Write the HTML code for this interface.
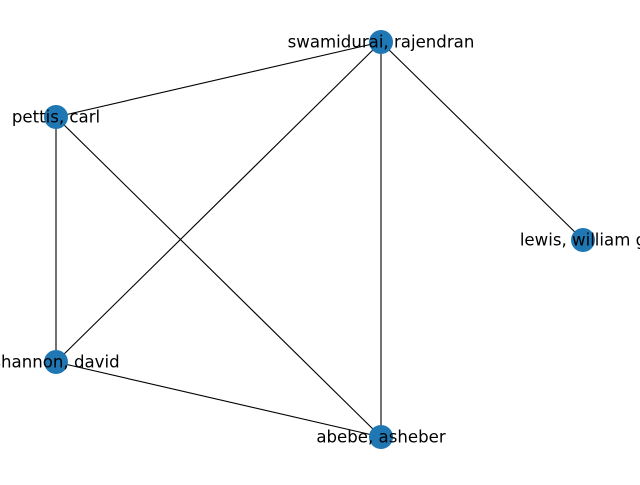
<!DOCTYPE html>
<html><head><style>html,body{margin:0;padding:0;background:#fff;overflow:hidden}</style></head>
<body>
<svg width="640" height="480" viewBox="0 0 640 480" xmlns="http://www.w3.org/2000/svg">
<g stroke="#000" stroke-width="1.1">
<line x1="381" y1="42" x2="56" y2="117"/>
<line x1="381" y1="42" x2="56" y2="362"/>
<line x1="381" y1="42" x2="381" y2="437"/>
<line x1="381" y1="42" x2="583" y2="240"/>
<line x1="56" y1="117" x2="56" y2="362"/>
<line x1="56" y1="117" x2="381" y2="437"/>
<line x1="56" y1="362" x2="381" y2="437"/>
</g>
<g fill="#1f77b4">
<circle cx="381" cy="42" r="12"/>
<circle cx="56" cy="117" r="12"/>
<circle cx="583" cy="240" r="12"/>
<circle cx="56" cy="362" r="12"/>
<circle cx="381" cy="437" r="12"/>
</g>
<g font-family="DejaVu Sans, sans-serif" font-size="16.6" text-anchor="middle" dominant-baseline="central" fill="#000">
<text x="381" y="42">swamidurai, rajendran</text>
<text x="56" y="117">pettis, carl</text>
<text x="583" y="240">lewis, william g</text>
<text x="56" y="362">shannon, david</text>
<text x="381" y="437">abebe, asheber</text>
</g>
</svg>
</body></html>
